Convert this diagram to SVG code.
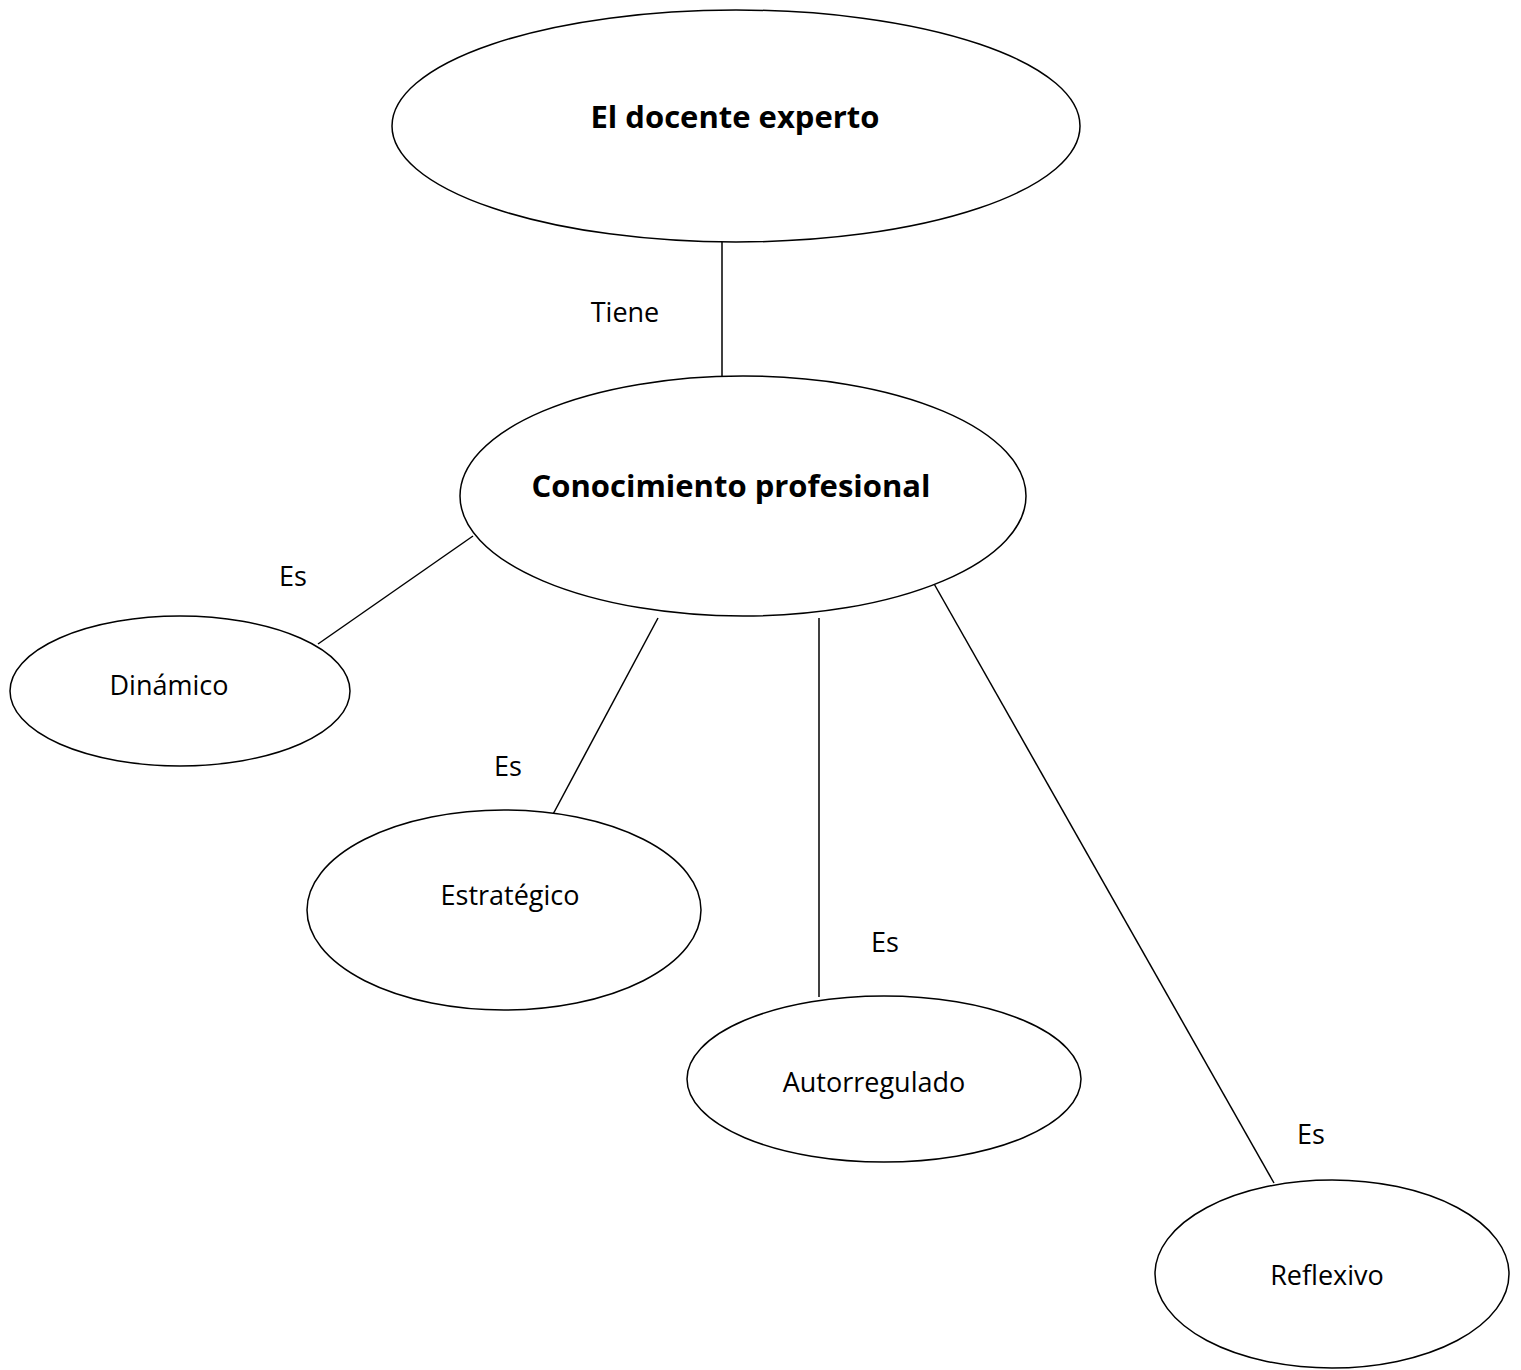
<svg xmlns="http://www.w3.org/2000/svg" width="1521" height="1370" viewBox="0 0 1521 1370">
<style>
.n{fill:#fff;stroke:#000;stroke-width:1.5}
.c line{stroke:#000;stroke-width:1.5}
text{font-family:"Open Sans","Liberation Sans",sans-serif;font-size:27px;fill:#000;text-anchor:middle}
.b{font-weight:bold;font-size:31px}
</style>
<rect width="1521" height="1370" fill="#fff"/>
<g id="connectors" class="c">
<line x1="722" y1="242" x2="722" y2="376"/>
<line x1="473" y1="536" x2="318" y2="644"/>
<line x1="658" y1="618" x2="551" y2="818"/>
<line x1="819" y1="618" x2="819" y2="997"/>
<line x1="933" y1="582" x2="1274" y2="1183"/>
</g>
<g id="labels">
<text x="625" y="322">Tiene</text>
<text x="293" y="586">Es</text>
<text x="508" y="776">Es</text>
<text x="885" y="952">Es</text>
<text x="1311" y="1144">Es</text>
</g>
<g id="n1"><ellipse class="n" cx="736" cy="126" rx="344" ry="116"/><text class="b" x="735" y="128">El docente experto</text></g>
<g id="n2"><ellipse class="n" cx="743" cy="496" rx="283" ry="120"/><text class="b" x="731" y="497">Conocimiento profesional</text></g>
<g id="n3"><ellipse class="n" cx="180" cy="691" rx="170" ry="75"/><text x="169" y="695">Dinámico</text></g>
<g id="n4"><ellipse class="n" cx="504" cy="910" rx="197" ry="100"/><text x="510" y="905">Estratégico</text></g>
<g id="n5"><ellipse class="n" cx="884" cy="1079" rx="197" ry="83"/><text x="874" y="1092">Autorregulado</text></g>
<g id="n6"><ellipse class="n" cx="1332" cy="1274" rx="177" ry="94"/><text x="1327" y="1285">Reflexivo</text></g>
</svg>
